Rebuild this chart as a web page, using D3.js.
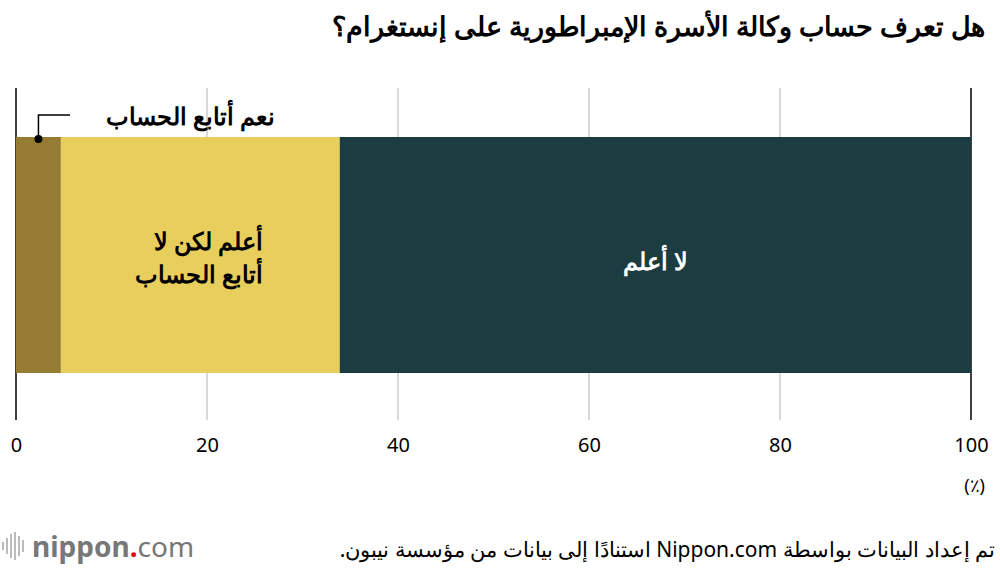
<!DOCTYPE html><html><head><meta charset="utf-8"><script src="https://cdn.jsdelivr.net/npm/d3@7"></script>
<style>body{margin:0;background:#fff}text{font-family:"Noto Sans",sans-serif}</style></head><body><svg id="c" width="1000" height="570"></svg>
<script>
const categories=["نعم أتابع الحساب","أعلم لكن لا أتابع الحساب","لا أعلم"];
const values=[4.7,29.2,66.1];
const colors=["#967c33","#e8ce5d","#1b3d42"];
const ticks=[0,20,40,60,80,100];
const svg=d3.select("#c");
const x=d3.scaleLinear().domain([0,100]).range([16,971]);
svg.append("text").attr("x",985).attr("y",36).attr("text-anchor","start").attr("direction","rtl").attr("font-size",27).attr("font-weight","bold").text("هل تعرف حساب وكالة الأسرة الإمبراطورية على إنستغرام؟");
svg.selectAll("line.g").data(ticks).join("line").attr("x1",d=>x(d)).attr("x2",d=>x(d)).attr("y1",88).attr("y2",420)
 .attr("stroke",d=>d==0||d==100?"#000":"#ccc").attr("stroke-width",1.5);
let cum=0;const segs=values.map((v,i)=>{const s={i,x0:cum,x1:cum+v};cum+=v;return s;});
svg.selectAll("rect").data(segs).join("rect").attr("x",d=>x(d.x0)).attr("width",d=>x(d.x1)-x(d.x0)).attr("y",137).attr("height",236).attr("fill",d=>colors[d.i]);
const ax=svg.append("g").attr("transform","translate(0,420)").call(d3.axisBottom(x).tickValues(ticks).tickSize(0).tickPadding(18));
ax.select(".domain").remove();ax.selectAll("text").attr("font-size",20).attr("fill","#000").style("font-family","Noto Sans");
svg.append("text").attr("x",985).attr("y",492).attr("text-anchor","end").attr("font-size",18).text("(٪)");
svg.append("text").attr("x",(x(segs[2].x0)+x(segs[2].x1))/2).attr("y",270).attr("text-anchor","middle").attr("direction","rtl").attr("fill","#fff").attr("font-size",24).attr("font-weight","bold").text(categories[2]);
const t=svg.append("text").attr("direction","rtl").attr("text-anchor","start").attr("font-size",24).attr("font-weight","bold");
t.append("tspan").attr("x",263).attr("y",250).text("أعلم لكن لا");
t.append("tspan").attr("x",263).attr("y",283).text("أتابع الحساب");
const cx=x(segs[0].x0+values[0]/2);
svg.append("path").attr("d",`M${cx},139V115H70`).attr("fill","none").attr("stroke","#000").attr("stroke-width",1.5);
svg.append("circle").attr("cx",cx).attr("cy",139).attr("r",4);
svg.append("text").attr("x",275).attr("y",125).attr("text-anchor","start").attr("direction","rtl").attr("font-size",24).attr("font-weight","bold").text(categories[0]);
svg.append("text").attr("x",995).attr("y",557).attr("text-anchor","start").attr("direction","rtl").attr("font-size",21).text("تم إعداد البيانات بواسطة Nippon.com استنادًا إلى بيانات من مؤسسة نيبون.");
[2,6,10,14,18,22].forEach((d,i)=>svg.append("rect").attr("x",d).attr("y",546-[4,8,12,14,10,6][i]).attr("width",2).attr("height",2*[4,8,12,14,10,6][i]).attr("fill","#bbb"));
const lg=svg.append("text").attr("x",32).attr("y",557).attr("font-size",28).attr("fill","#777").attr("font-weight","bold");
lg.append("tspan").text("nippon");lg.append("tspan").attr("fill","#e60012").text(".");lg.append("tspan").attr("font-weight","normal").text("com");
</script></body></html>
